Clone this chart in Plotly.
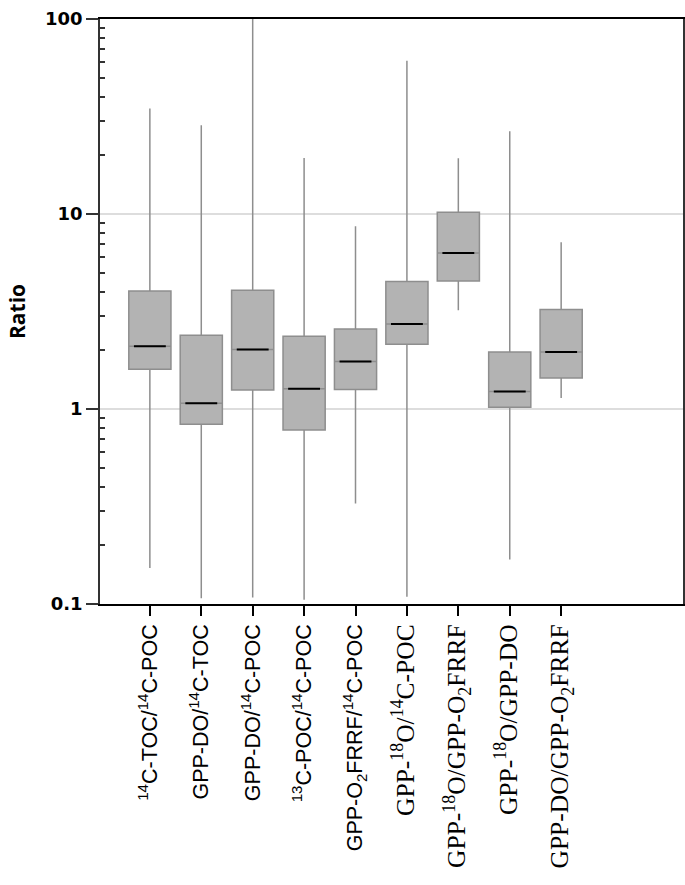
import plotly.graph_objects as go

categories = ["c1", "c2", "c3", "c4", "c5", "c6", "c7", "c8", "c9"]
sans_labels = [
    "<sup>14</sup>C-TOC/<sup>14</sup>C-POC",
    "GPP-DO/<sup>14</sup>C-TOC",
    "GPP-DO/<sup>14</sup>C-POC",
    "<sup>13</sup>C-POC/<sup>14</sup>C-POC",
    "GPP-O<sub>2</sub>FRRF/<sup>14</sup>C-POC",
]
serif_labels = [
    "GPP-<sup>18</sup>O/<sup>14</sup>C-POC",
    "GPP-<sup>18</sup>O/GPP-O<sub>2</sub>FRRF",
    "GPP-<sup>18</sup>O/GPP-DO",
    "GPP-DO/GPP-O<sub>2</sub>FRRF",
]
lower_whisker = [0.153, 0.107, 0.108, 0.105, 0.328, 0.109, 3.21, 0.169, 1.14]
q1 = [1.60, 0.834, 1.25, 0.78, 1.26, 2.15, 4.53, 1.02, 1.44]
median = [2.10, 1.07, 2.02, 1.27, 1.75, 2.73, 6.31, 1.23, 1.96]
q3 = [4.03, 2.39, 4.06, 2.36, 2.57, 4.50, 10.2, 1.96, 3.24]
upper_whisker = [34.8, 28.5, 100, 19.4, 8.65, 61.1, 19.3, 26.6, 7.16]
y_ticks = [0.1, 1, 10, 100]
y_minor = [m * d for d in (0.1, 1, 10) for m in range(2, 10)]

tick_text = [f'<span style="font-family:Liberation Sans">{t}</span>' for t in sans_labels] + \
            [f'<span style="font-family:Liberation Serif;font-size:25.5px">{t}</span>' for t in serif_labels]

fig = go.Figure()
fig.add_trace(go.Box(
    x=categories, q1=q1, median=median, q3=q3,
    lowerfence=lower_whisker, upperfence=upper_whisker,
    fillcolor="#b3b3b3", line=dict(color="#8e8e8e", width=1.5),
    whiskerwidth=0, width=0.82, boxpoints=False, hoverinfo="skip",
))
fig.add_trace(go.Box(
    x=categories, q1=median, median=median, q3=median,
    lowerfence=median, upperfence=median,
    fillcolor="black", line=dict(color="black", width=2),
    whiskerwidth=0, width=0.62, boxpoints=False, hoverinfo="skip",
))

fig.update_layout(
    width=685, height=885,
    margin=dict(l=100, r=2, t=19, b=281),
    plot_bgcolor="white", paper_bgcolor="white",
    showlegend=False, boxmode="overlay",
)
fig.update_xaxes(
    type="category", categoryorder="array", categoryarray=categories,
    range=[-0.97, 10.37], automargin=False,
    tickvals=categories, ticktext=tick_text, tickangle=-90,
    tickfont=dict(family="Liberation Sans", size=21.5, color="black"),
    ticks="outside", ticklen=10, tickcolor="black", tickwidth=1.5,
    showline=True, linecolor="black", linewidth=1.5, mirror=True,
    showgrid=False, zeroline=False,
)
fig.update_yaxes(
    type="log", range=[-1, 2], automargin=False,
    tickvals=y_ticks, ticktext=["<b>0.1</b>", "<b>1</b>", "<b>10</b>", "<b>100</b>"],
    tickfont=dict(family="DejaVu Sans", size=18, color="black"),
    ticks="outside", ticklen=12, tickcolor="#333", tickwidth=1.5,
    minor=dict(tickvals=y_minor, ticks="inside", ticklen=5, tickcolor="#333", tickwidth=1.5, showgrid=False),
    showline=True, linecolor="#333", linewidth=1.5, mirror=True,
    showgrid=True, gridcolor="#dddddd", gridwidth=1.5,
    title=dict(text="<b>Ratio</b>", font=dict(family="Open Sans", size=21, color="black"), standoff=14),
)
fig.write_html(
    "out.html",
    config={"displayModeBar": False},
    post_script="document.body.style.margin='0';document.body.style.overflow='hidden';",
)
